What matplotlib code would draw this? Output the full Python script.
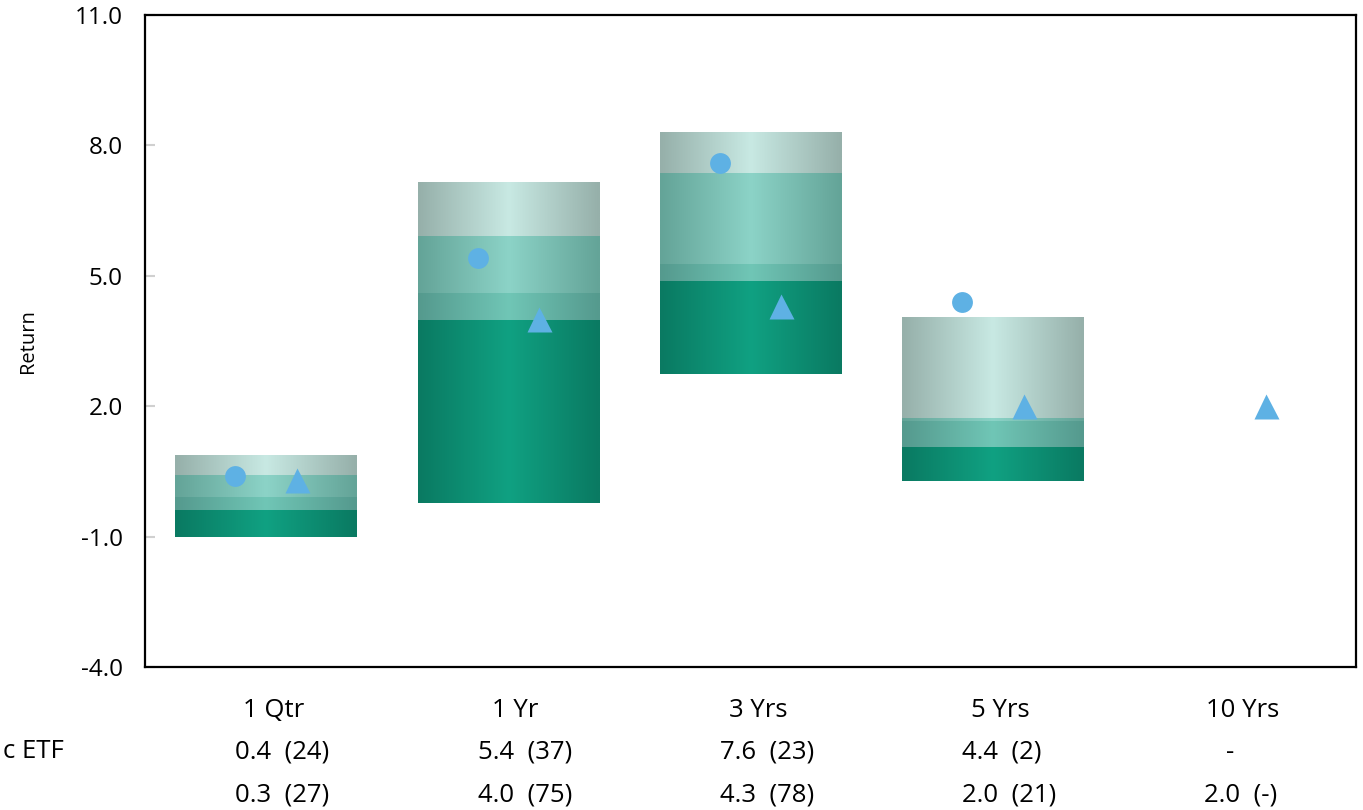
import numpy as np
import matplotlib
matplotlib.use('Agg')
import matplotlib.pyplot as plt
from matplotlib.colors import to_rgb

plt.rcParams['font.family'] = ['Open Sans', 'DejaVu Sans']

# data
categories = ['1 Qtr', '1 Yr', '3 Yrs', '5 Yrs', '10 Yrs']
p05 = [0.87, 7.16, 8.31, 4.04, np.nan]
p25 = [0.42, 5.92, 7.35, 1.70, np.nan]
p50 = [-0.08, 4.59, 5.24, 1.65, np.nan]
p75 = [-0.40, 3.96, 4.87, 1.05, np.nan]
p95 = [-1.00, -0.23, 2.75, 0.27, np.nan]
fund = [0.4, 5.4, 7.6, 4.4, np.nan]
bench = [0.3, 4.0, 4.3, 2.0, 2.0]
fund_rank = ['24', '37', '23', '2', None]
bench_rank = ['27', '75', '78', '21', '-']
row_label = 'c ETF'

# (edge colour, centre colour) for each band, top to bottom
band_colors = [('#96b0aa', '#c8e9e3'),
               ('#64a498', '#8cd3c7'),
               ('#559a8e', '#70c6b6'),
               ('#0a7a62', '#10a182')]
marker_color = '#5eb1e4'


def gradient(edge, centre, n=64):
    e, c = np.array(to_rgb(edge)), np.array(to_rgb(centre))
    t = 1 - np.abs(np.linspace(-1, 1, n))
    return (e[None, :] * (1 - t[:, None]) + c[None, :] * t[:, None])[None, :, :]


fig = plt.figure(figsize=(13.63, 8.10), dpi=100)
ax = fig.add_axes([0.1064, 0.1765, 0.8885, 0.805])

width = 0.75
x = np.arange(len(categories)) + 0.5
edges = [p05, p25, p50, p75, p95]
for i, xc in enumerate(x):
    if np.isnan(p05[i]):
        continue
    for b in range(4):
        hi, lo = edges[b][i], edges[b + 1][i]
        ax.imshow(gradient(*band_colors[b]), extent=[xc - width / 2, xc + width / 2, lo, hi],
                  aspect='auto', interpolation='bilinear', zorder=2)

off = 0.127
ax.plot(x - off, fund, 'o', color=marker_color, ms=15, mec='none', zorder=3)
ax.plot(x + off, bench, '^', color=marker_color, ms=18, mec='none', zorder=3)

ax.set_xlim(0, len(categories))
ax.set_ylim(-4, 11)
ax.set_yticks([-4, -1, 2, 5, 8, 11])
ax.set_yticklabels([f'{v:.1f}' for v in [-4, -1, 2, 5, 8, 11]], fontsize=17.5)
ax.tick_params(axis='y', direction='in', length=7, width=1.5, color='#d0d0d0', pad=16)
ax.set_xticks([])
for s in ax.spines.values():
    s.set_linewidth(1.6)
    s.set_color('black')
ax.set_ylabel('Return', fontsize=14.5)
ax.yaxis.set_label_coords(-0.088, 0.5)

# table below the chart
fs = 18.5
trans = ax.get_xaxis_transform()
for i, xc in enumerate(x):
    ax.text(xc + 0.03, -0.066, categories[i], transform=trans, ha='center', va='center',
            fontsize=fs, clip_on=False)
    if fund_rank[i] is None:
        ax.text(xc - 0.02, -0.131, '-', transform=trans, ha='center', va='center',
                fontsize=fs, clip_on=False)
    else:
        ax.text(xc - off, -0.131, f'{fund[i]:.1f}  ({fund_rank[i]})', transform=trans,
                ha='left', va='center', fontsize=fs, clip_on=False)
    ax.text(xc - off, -0.196, f'{bench[i]:.1f}  ({bench_rank[i]})', transform=trans,
            ha='left', va='center', fontsize=fs, clip_on=False)
fig.text(3 / 1363, 1 - 752 / 810, row_label, ha='left', va='center', fontsize=fs)

fig.savefig('out.png', dpi=100)
